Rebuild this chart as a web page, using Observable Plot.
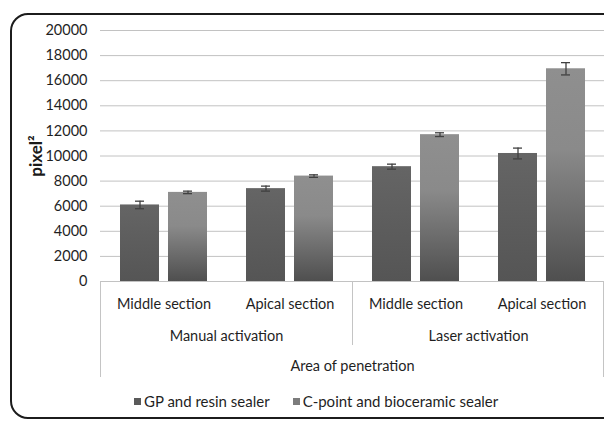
<!DOCTYPE html>
<html>
<head>
<meta charset="utf-8">
<script src="https://cdn.jsdelivr.net/npm/d3@7"></script>
<script src="https://cdn.jsdelivr.net/npm/@observablehq/plot@0.6"></script>
<style>
  body { margin: 0; background: #fff; font-family: Lato, "Open Sans", sans-serif; }
  #frame { position: absolute; left: 10px; top: 13px; width: 640px; height: 406px;
           border: 2px solid #1c1c1c; border-radius: 18px; box-sizing: border-box; }
  #chart { position: absolute; left: 0; top: 0; }
  #legend { position: absolute; left: 134px; top: 392px; font-size: 15px; color: #1f1f1f;
            display: flex; gap: 23px; white-space: nowrap; }
  #legend span.item { display: flex; align-items: center; }
  #legend i { display: inline-block; width: 7px; height: 7px; margin-right: 3px; }
</style>
</head>
<body>
<div id="frame"></div>
<div id="chart"></div>
<div id="legend"></div>
<script>
const activations = ["Manual activation", "Manual activation", "Laser activation", "Laser activation"];
const sections = ["Middle section", "Apical section", "Middle section", "Apical section"];
const seriesNames = ["GP and resin sealer", "C-point and bioceramic sealer"];
const gpValues = [6100, 7400, 9150, 10200];
const gpErrors = [300, 200, 200, 430];
const cpValues = [7100, 8400, 11700, 16950];
const cpErrors = [100, 100, 150, 490];
const yTicks = [0, 2000, 4000, 6000, 8000, 10000, 12000, 14000, 16000, 18000, 20000];
const axisTitle = "Area of penetration";
const yTitle = "pixel²";

const gpRows = activations.map((a, i) => ({activation: a, section: sections[i], value: gpValues[i], err: gpErrors[i]}));
const cpRows = activations.map((a, i) => ({activation: a, section: sections[i], value: cpValues[i], err: cpErrors[i]}));

const W = 604, H = 385;
const textColor = "#1f1f1f";

const plot = Plot.plot({
  width: W,
  height: H,
  marginLeft: 100,
  marginRight: 0,
  marginTop: 30,
  marginBottom: 104,
  style: {fontFamily: "Lato, 'Open Sans', sans-serif", fontSize: "14.5px", color: textColor, background: "transparent", overflow: "visible"},
  fx: {domain: ["Manual activation", "Laser activation"], paddingInner: 0, paddingOuter: 0},
  x: {domain: ["Middle section", "Apical section"], paddingInner: 39 / 126, paddingOuter: 19.5 / 126},
  y: {domain: [0, 20000]},
  marks: [
    Plot.ruleY(yTicks, {stroke: "#c2c2c2", strokeWidth: 1}),
    Plot.barY(gpRows, {fx: "activation", x: "section", y: "value", insetRight: 48, fill: "url(#gpGrad)"}),
    Plot.barY(cpRows, {fx: "activation", x: "section", y: "value", insetLeft: 48, fill: "url(#cpGrad)"}),
    Plot.ruleX(gpRows, {fx: "activation", x: "section", y1: d => d.value - d.err, y2: d => d.value + d.err, dx: -24, stroke: "#404040", strokeWidth: 1.3}),
    Plot.ruleX(cpRows, {fx: "activation", x: "section", y1: d => d.value - d.err, y2: d => d.value + d.err, dx: 24, stroke: "#404040", strokeWidth: 1.3}),
    Plot.tickY(gpRows, {fx: "activation", x: "section", y: d => d.value + d.err, insetLeft: 15, insetRight: 63, stroke: "#404040", strokeWidth: 1.3}),
    Plot.tickY(gpRows, {fx: "activation", x: "section", y: d => d.value - d.err, insetLeft: 15, insetRight: 63, stroke: "#404040", strokeWidth: 1.3}),
    Plot.tickY(cpRows, {fx: "activation", x: "section", y: d => d.value + d.err, insetLeft: 63, insetRight: 15, stroke: "#404040", strokeWidth: 1.3}),
    Plot.tickY(cpRows, {fx: "activation", x: "section", y: d => d.value - d.err, insetLeft: 63, insetRight: 15, stroke: "#404040", strokeWidth: 1.3}),
    Plot.axisY({ticks: yTicks, tickSize: 0, tickPadding: 13, tickFormat: d => String(d), label: null, fill: textColor, fontSize: 14.5}),
    Plot.axisY({ticks: [], label: yTitle, labelAnchor: "center", labelOffset: 71, labelArrow: "none", fontWeight: "bold", fontSize: 17, fill: "#1a1a1a"}),
    Plot.axisX({anchor: "bottom", tickSize: 0, tickPadding: 17, label: null, fill: textColor, fontSize: 14.5}),
    Plot.axisFx({anchor: "bottom", tickSize: 0, tickPadding: 49, label: axisTitle, labelAnchor: "center", labelOffset: 89, labelArrow: "none", fill: textColor, fontSize: 14.5})
  ]
});

// gradients for the bars
const svg = d3.select(plot);
const defs = svg.insert("defs", ":first-child");
const g1 = defs.append("linearGradient").attr("id", "gpGrad").attr("x1", 0).attr("y1", 0).attr("x2", 0).attr("y2", 1);
g1.append("stop").attr("offset", 0).attr("stop-color", "#656565");
g1.append("stop").attr("offset", 1).attr("stop-color", "#555555");
const g2 = defs.append("linearGradient").attr("id", "cpGrad").attr("x1", 0).attr("y1", 0).attr("x2", 0).attr("y2", 1);
g2.append("stop").attr("offset", 0).attr("stop-color", "#8f8f8f");
g2.append("stop").attr("offset", 0.38).attr("stop-color", "#8a8a8a");
g2.append("stop").attr("offset", 1).attr("stop-color", "#4f4f4f");

// y title size as in the reference
svg.selectAll("text").each(function () {
  if (this.textContent.includes("pixel")) {
    d3.select(this).style("font-size", "17px").style("font-weight", "bold");
  }
});

// category-axis box lines, from the library's scales
const fx = plot.scale("fx");
const y = plot.scale("y");
const y0 = y.apply(0);
const sepColor = "#c4c4c4";
const lines = svg.append("g").attr("stroke", sepColor).attr("stroke-width", 1);
const left = fx.apply(fx.domain[0]);
const mid = fx.apply(fx.domain[1]);
const right = mid + fx.bandwidth;
lines.append("line").attr("x1", left + 0.5).attr("x2", left + 0.5).attr("y1", y0).attr("y2", y0 + 96);
lines.append("line").attr("x1", mid + 0.5).attr("x2", mid + 0.5).attr("y1", y0).attr("y2", y0 + 64);
lines.append("line").attr("x1", right - 0.5).attr("x2", right - 0.5).attr("y1", y0).attr("y2", y0 + 96);

document.getElementById("chart").append(plot);

// legend
const legend = document.getElementById("legend");
const swatches = ["#5a5a5a", "#7c7c7c"];
seriesNames.forEach((s, i) => {
  const item = document.createElement("span");
  item.className = "item";
  const sw = document.createElement("i");
  sw.style.background = swatches[i];
  item.append(sw, document.createTextNode(s));
  legend.append(item);
});
</script>
</body>
</html>
